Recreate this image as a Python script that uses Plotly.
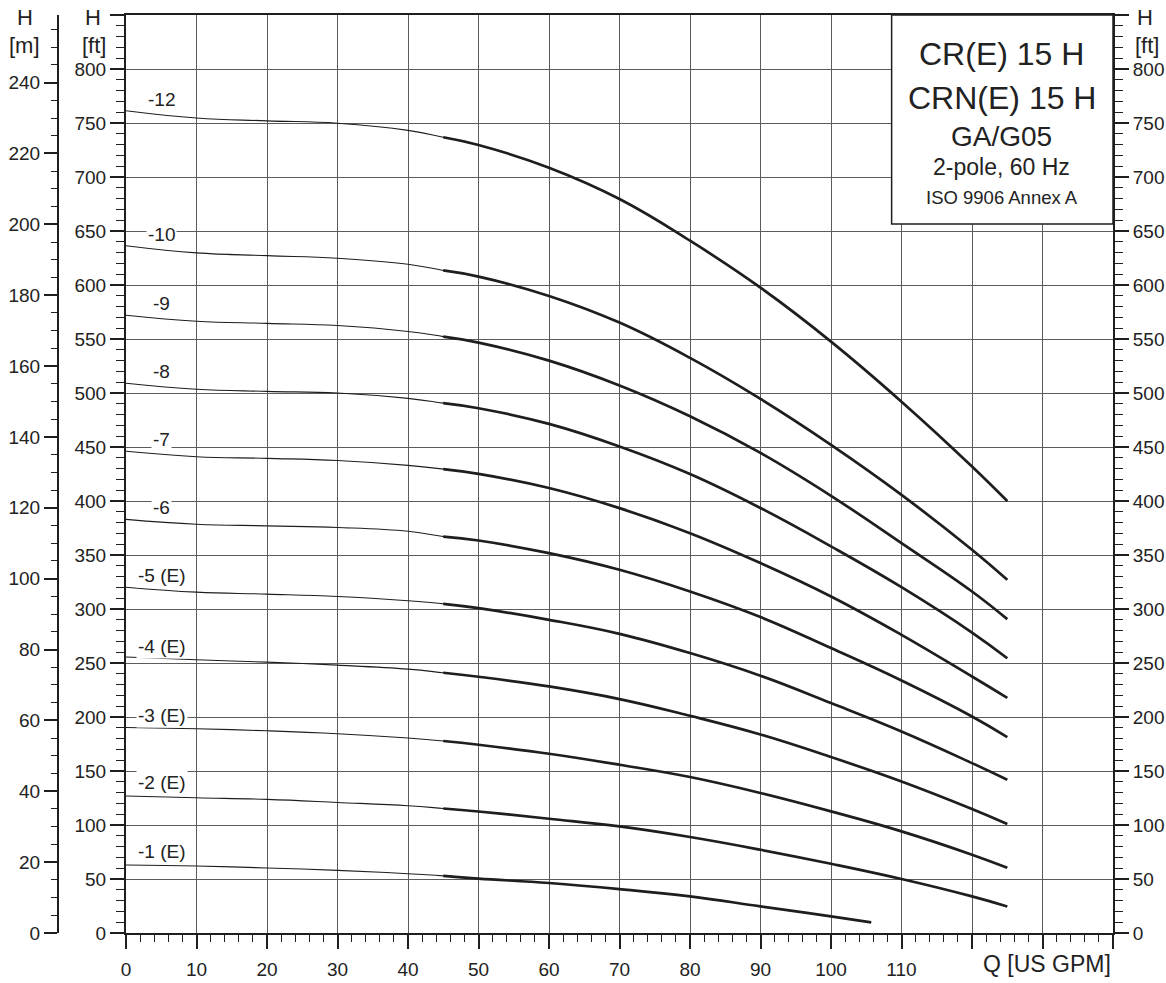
import plotly.graph_objects as go

# ---------------- data (H in ft, Q in US GPM) ----------------
Q = [0, 10, 20, 30, 40, 45, 50, 60, 70, 80, 90, 100, 110, 120, 125]
Q1 = [0, 10, 20, 30, 40, 45, 50, 60, 70, 80, 90, 100, 105.7]

H_12 = [761.4, 754.6, 752.0, 749.8, 743.2, 736.8, 729.6, 708.6, 679.6, 641.0, 597.5, 547.6, 492.0, 432.0, 400.0]
H_10 = [636.4, 629.7, 627.2, 624.8, 619.2, 613.5, 607.8, 589.9, 565.2, 532.5, 494.5, 452.0, 405.7, 354.8, 327.0]
H_9 = [572.0, 566.5, 564.5, 562.5, 557.0, 552.2, 546.7, 530.0, 507.0, 478.5, 444.5, 404.8, 361.0, 316.2, 290.6]
H_8 = [509.0, 503.5, 501.5, 500.0, 495.0, 490.6, 485.9, 471.4, 450.5, 425.0, 393.5, 358.0, 320.2, 278.2, 254.4]
H_7 = [446.0, 441.0, 439.5, 437.5, 433.0, 429.5, 425.1, 412.0, 393.4, 370.2, 342.5, 311.6, 276.1, 237.5, 217.8]
H_6 = [383.0, 378.5, 377.0, 375.5, 372.0, 367.1, 363.4, 351.7, 336.3, 316.2, 292.5, 263.8, 233.8, 200.5, 181.4]
H_5 = [320.2, 315.6, 313.8, 311.6, 307.6, 304.8, 300.8, 290.0, 277.0, 259.2, 238.2, 212.9, 186.6, 157.3, 141.9]
H_4 = [255.5, 253.0, 250.8, 248.0, 244.3, 241.0, 237.3, 228.3, 216.6, 201.1, 183.8, 162.9, 140.3, 114.8, 100.9]
H_3 = [190.3, 189.1, 187.2, 184.5, 180.5, 177.8, 174.3, 166.0, 155.8, 144.4, 129.6, 112.6, 94.1, 72.5, 60.4]
H_2 = [126.8, 125.2, 123.7, 120.9, 117.8, 115.3, 112.5, 105.8, 98.7, 88.9, 77.1, 64.1, 50.0, 33.9, 24.6]
H_1 = [62.9, 62.0, 60.2, 58.0, 54.9, 52.9, 50.3, 46.3, 40.7, 33.9, 24.6, 15.4, 9.8]

curve_names = ["-12", "-10", "-9", "-8", "-7", "-6", "-5 (E)", "-4 (E)", "-3 (E)", "-2 (E)", "-1 (E)"]
curve_heads = [H_12, H_10, H_9, H_8, H_7, H_6, H_5, H_4, H_3, H_2, H_1]
curve_flows = [Q, Q, Q, Q, Q, Q, Q, Q, Q, Q, Q1]
label_y = [772, 647, 583, 520, 457, 394, 331, 265, 201, 139.5, 75.5]
label_x = 5.1
THICK_FROM_Q = 45

x_ticks = list(range(0, 141, 10))
x_labels = [str(v) if v <= 110 else "" for v in x_ticks]
ft_ticks = list(range(0, 851, 50))
ft_labels = [str(v) if v <= 800 else "" for v in ft_ticks]
m_ticks = list(range(0, 241, 20))
FT_PER_M = 3.28084
H_MAX_FT = 850

title_lines = ["CR(E) 15 H", "CRN(E) 15 H", "GA/G05", "2-pole, 60 Hz", "ISO 9906 Annex A"]

# ---------------- figure ----------------
W, HT = 1166, 983
ML, MR, MT, MB = 50, 53, 15, 50
PW = W - ML - MR
PH = HT - MT - MB


def pxx(px):
    return (px - ML) / PW


def pxy(py):
    return (HT - MB - py) / PH


FONT = "Liberation Sans, Arial, sans-serif"
INK = "#1e1e1e"
GRID = "#5c5c5c"
TXT = "#222"

fig = go.Figure()
for name, h, q in zip(curve_names, curve_heads, curve_flows):
    i45 = q.index(THICK_FROM_Q)
    fig.add_trace(go.Scatter(x=q, y=h, mode="lines",
                             line=dict(color=INK, width=1.1, shape="spline", smoothing=1.2),
                             showlegend=False, hoverinfo="skip"))
    fig.add_trace(go.Scatter(x=q[i45:], y=h[i45:], mode="lines",
                             line=dict(color=INK, width=2.7, shape="spline", smoothing=1.2),
                             showlegend=False, hoverinfo="skip"))

# dummy traces so the extra axes are drawn
fig.add_trace(go.Scatter(x=[0], y=[0], yaxis="y2", mode="markers", marker=dict(opacity=0),
                         showlegend=False, hoverinfo="skip"))
fig.add_trace(go.Scatter(x=[0], y=[0], yaxis="y3", mode="markers", marker=dict(opacity=0),
                         showlegend=False, hoverinfo="skip"))

tickfont = dict(family=FONT, size=19, color=TXT)

fig.update_layout(
    width=W, height=HT,
    margin=dict(l=ML, r=MR, t=MT, b=MB, autoexpand=False),
    paper_bgcolor="white", plot_bgcolor="white",
    showlegend=False,
    xaxis=dict(domain=[pxx(126), 1], range=[0, 140], tickmode="array",
               tickvals=x_ticks, ticktext=x_labels,
               ticks="outside", ticklen=14, tickwidth=1.5, tickcolor=INK,
               showline=True, linecolor=INK, linewidth=2, mirror=True,
               showgrid=True, gridcolor=GRID, gridwidth=1, zeroline=False,
               minor=dict(tickmode="linear", tick0=0, dtick=2, ticks="outside",
                          ticklen=7, tickwidth=1.2, tickcolor=INK, showgrid=False),
               tickfont=tickfont, ticklabelstandoff=4, automargin=False, fixedrange=True),
    yaxis=dict(range=[0, H_MAX_FT], tickmode="array", tickvals=ft_ticks, ticktext=ft_labels,
               ticks="outside", ticklen=14, tickwidth=1.5, tickcolor=INK,
               showline=True, linecolor=INK, linewidth=2,
               showgrid=True, gridcolor=GRID, gridwidth=1, zeroline=False,
               minor=dict(tickmode="linear", tick0=0, dtick=10, ticks="outside",
                          ticklen=8, tickwidth=1.2, tickcolor=INK, showgrid=False),
               tickfont=tickfont, automargin=False, fixedrange=True),
    yaxis2=dict(range=[0, H_MAX_FT], overlaying="y", side="right", anchor="x",
                tickmode="array", tickvals=ft_ticks, ticktext=ft_labels,
                ticks="outside", ticklen=14, tickwidth=1.5, tickcolor=INK,
                showline=True, linecolor=INK, linewidth=2,
                showgrid=False, zeroline=False,
                minor=dict(tickmode="linear", tick0=0, dtick=10, ticks="outside",
                           ticklen=8, tickwidth=1.2, tickcolor=INK, showgrid=False),
                tickfont=tickfont, automargin=False, fixedrange=True),
    yaxis3=dict(range=[0, H_MAX_FT / FT_PER_M], overlaying="y", side="left", anchor="free",
                position=pxx(58), tickmode="array", tickvals=m_ticks,
                ticks="outside", ticklen=13, tickwidth=1.5, tickcolor=INK,
                showline=True, linecolor=INK, linewidth=2,
                showgrid=False, zeroline=False,
                minor=dict(tickmode="linear", tick0=0, dtick=5, ticks="outside",
                           ticklen=6, tickwidth=1.2, tickcolor=INK, showgrid=False),
                tickfont=tickfont, automargin=False, fixedrange=True),
)

# title box
fig.add_shape(type="rect", xref="x", yref="y", x0=108.6, x1=140, y0=656.5, y1=H_MAX_FT,
              fillcolor="white", line=dict(color=INK, width=1.5), layer="above")

title_px_y = [54, 98, 136, 167, 197]
title_sizes = [32, 32, 28, 23, 18.5]
for txt, py, sz in zip(title_lines, title_px_y, title_sizes):
    fig.add_annotation(x=pxx(1001.5), y=pxy(py), xref="paper", yref="paper", text=txt,
                       showarrow=False, xanchor="center", yanchor="middle",
                       font=dict(family=FONT, size=sz, color=TXT))

# curve labels
for name, ly in zip(curve_names, label_y):
    fig.add_annotation(x=label_x, y=ly, xref="x", yref="y", text=name, showarrow=False,
                       xanchor="center", yanchor="middle", bgcolor="white", borderpad=1,
                       font=dict(family=FONT, size=19, color=TXT))

# axis headers
headers = [("H", 25, 17), ("[m]", 24, 46), ("H", 93, 17), ("[ft]", 94, 46),
           ("H", 1145, 17), ("[ft]", 1147, 46)]
for txt, px, py in headers:
    fig.add_annotation(x=pxx(px), y=pxy(py), xref="paper", yref="paper", text=txt,
                       showarrow=False, xanchor="center", yanchor="middle",
                       font=dict(family=FONT, size=22, color=TXT))

fig.add_annotation(x=pxx(1113), y=pxy(964), xref="paper", yref="paper", text="Q [US GPM]",
                   showarrow=False, xanchor="right", yanchor="middle",
                   font=dict(family=FONT, size=23, color=TXT))

fig.write_html("out.html", config={"displayModeBar": False},
               post_script="document.body.style.margin='0';document.body.style.padding='0';")
